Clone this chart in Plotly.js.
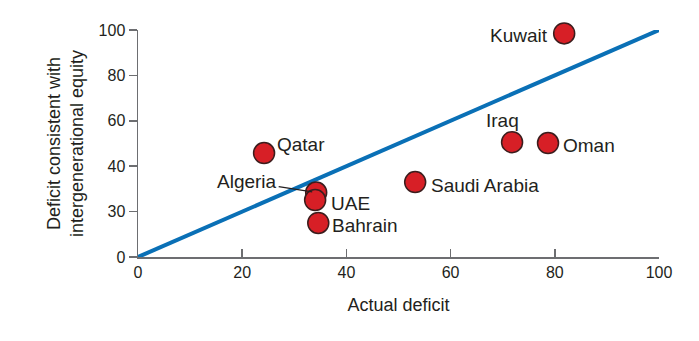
<!DOCTYPE html>
<html>
<head>
<meta charset="utf-8">
<script src="https://cdn.plot.ly/plotly-3.0.1.min.js"></script>
<style>html,body{margin:0;padding:0;background:#fff;}#chart{width:699px;height:341px;}</style>
</head>
<body>
<div id="chart"></div>
<script>
const countries = ["Kuwait", "Iraq", "Oman", "Qatar", "Saudi Arabia", "Algeria", "UAE", "Bahrain"];
const actualDeficit = [81.8, 71.8, 78.7, 24.2, 53.2, 34.2, 34.0, 34.6];
const equityDeficit = [98.5, 50.6, 50.2, 45.8, 33.0, 28.4, 25.1, 15.0];
const parityLineX = [0, 100];
const parityLineY = [0, 100];
const xTickVals = [0, 20, 40, 60, 80, 100];
const xTickText = ["0", "20", "40", "60", "80", "100"];
const yTickVals = [0, 20, 40, 60, 80, 100];
const yTickText = ["0", "30", "40", "60", "80", "100"];

// label placement (style only)
const labelStyle = {
  "Kuwait": {xanchor: "right", xshift: -14, yshift: -2},
  "Iraq": {xanchor: "center", xshift: -10, yshift: 22},
  "Oman": {xanchor: "left", xshift: 13, yshift: -2},
  "Qatar": {xanchor: "left", xshift: 11, yshift: 9},
  "Saudi Arabia": {xanchor: "left", xshift: 14, yshift: -3},
  "UAE": {xanchor: "left", xshift: 14, yshift: -3},
  "Bahrain": {xanchor: "left", xshift: 12, yshift: -3}
};

const FAM = "Liberation Sans, Arial, Helvetica, sans-serif";
const txtFont = {family: FAM, size: 19, color: "#231f20"};

const annotations = countries.map((c, i) => {
  if (c === "Algeria") {
    return {x: actualDeficit[i], y: equityDeficit[i], xref: "x", yref: "y", text: c,
      showarrow: true, arrowhead: 0, arrowwidth: 1.2, arrowcolor: "#231f20",
      ax: -69, ay: -11, standoff: 4, font: txtFont};
  }
  const s = labelStyle[c];
  return {x: actualDeficit[i], y: equityDeficit[i], xref: "x", yref: "y", text: c,
    showarrow: false, xanchor: s.xanchor, yanchor: "middle", xshift: s.xshift, yshift: s.yshift, font: txtFont};
});

const traces = [
  {x: parityLineX, y: parityLineY, type: "scatter", mode: "lines",
   line: {color: "#0a70b6", width: 4}, hoverinfo: "skip", cliponaxis: false},
  {x: actualDeficit, y: equityDeficit, text: countries, type: "scatter", mode: "markers",
   marker: {size: 21, color: "#d71f26", line: {color: "#3b1d1d", width: 1.5}}, cliponaxis: false}
];

const axisFont = {family: FAM, size: 16, color: "#231f20"};

const layout = {
  width: 699, height: 341,
  margin: {l: 138, r: 40, t: 30, b: 84},
  paper_bgcolor: "#fff", plot_bgcolor: "#fff",
  showlegend: false,
  xaxis: {range: [0, 100], tickvals: xTickVals, ticktext: xTickText,
    showgrid: false, zeroline: false, showline: true, linecolor: "#6d6e71", linewidth: 1.5,
    ticks: "inside", ticklen: 8, tickcolor: "#6d6e71", tickwidth: 1.5,
    tickfont: axisFont, fixedrange: true,
    title: {text: "Actual deficit", font: {family: FAM, size: 18, color: "#231f20"}, standoff: 18}},
  yaxis: {range: [0, 100], tickvals: yTickVals, ticktext: yTickText,
    showgrid: false, zeroline: false, showline: true, linecolor: "#6d6e71", linewidth: 1.5,
    ticks: "outside", ticklen: 8, tickcolor: "#6d6e71", tickwidth: 1.5,
    tickfont: axisFont, fixedrange: true,
    title: {text: "Deficit consistent with<br>intergenerational equity", font: {family: FAM, size: 18, color: "#231f20"}, standoff: 10}},
  annotations: annotations
};

Plotly.newPlot("chart", traces, layout, {displayModeBar: false, staticPlot: true});
</script>
</body>
</html>
